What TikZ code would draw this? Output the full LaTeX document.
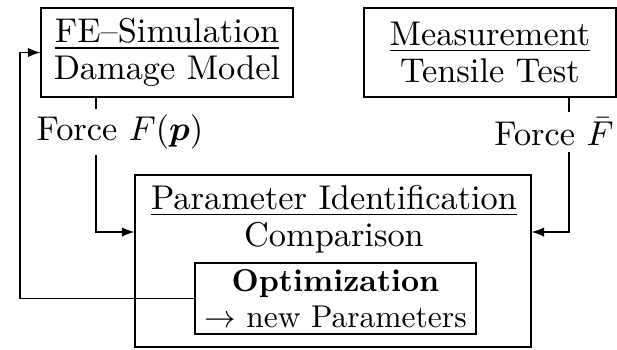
\documentclass[tikz,border=0pt]{standalone}
\usepackage{amsmath,amssymb}
\usepackage{tikz}
\usetikzlibrary{arrows, calc}

\begin{document}
\begin{tikzpicture}[x=0.3175pt, y=-0.3175pt, >=latex,
        font=\fontsize{10.9}{11.8}\selectfont,
        box/.style={draw, align=center, inner sep=0pt},
        lbl/.style={inner sep=1.5pt}]
        \useasboundingbox (0,0) rectangle (617,349);

        \node[box, minimum width=80pt, minimum height=28.3pt] (fe) at (167,52.5) {\underline{FE--Simulation}\\Damage Model};
        \node[box, minimum width=80pt, minimum height=28.3pt] (meas) at (490,52.5) {\underline{Measurement}\\Tensile Test};

        \node[box, minimum width=125.7pt, minimum height=54.6pt] (ident) at (333,261) {};
        \node[align=center] (identtxt) at (334,219) {\underline{Parameter Identification}\\Comparison};
        \node[box, minimum width=89.2pt, minimum height=22.5pt, font=\fontsize{10}{11.5}\selectfont] (opt) at (335.5,298.5) {\textbf{Optimization}\\$\rightarrow$ new Parameters};

        \node[lbl] (forcefe) at (120,132) {Force $F(\boldsymbol{p})$};
        \node[lbl] (forcem) at (554,132) {Force $\bar{F}$};

        \coordinate (feout) at (96,97);
        \coordinate (meout) at (569,97);

        \draw (feout) -- (feout |- forcefe.north);
        \draw[->] (forcefe.south -| feout) |- (ident.west |- 0,232);

        \draw (meout) -- (meout |- forcem.north);
        \draw[->] (forcem.south -| meout) |- (ident.east |- 0,232);

        \draw[->] (opt.west) -- (opt.west -| 20,0) |- (fe.west);

    \end{tikzpicture}
\end{document}
